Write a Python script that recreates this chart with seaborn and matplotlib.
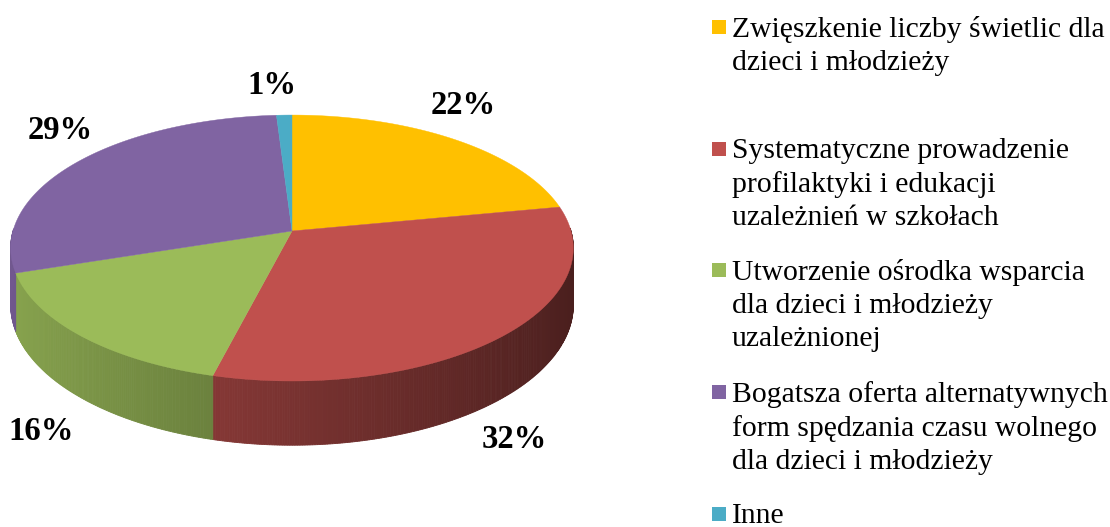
import numpy as np
import matplotlib
matplotlib.use("Agg")
import matplotlib.pyplot as plt
from matplotlib.patches import Polygon, Rectangle
import seaborn as sns


# dane z wykresu
kategorie = [
    "Zwięszkenie liczby świetlic dla\ndzieci i młodzieży",
    "Systematyczne prowadzenie\nprofilaktyki i edukacji\nuzależnień w szkołach",
    "Utworzenie ośrodka wsparcia\ndla dzieci i młodzieży\nuzależnionej",
    "Bogatsza oferta alternatywnych\nform spędzania czasu wolnego\ndla dzieci i młodzieży",
    "Inne",
]
procenty = [22, 32, 16, 29, 1]
kolory = ["#FFC000", "#C0504D", "#9BBB59", "#8064A2", "#4BACC6"]


sns.set_theme(style="white")
plt.rcParams['font.family'] = ['Liberation Serif', 'DejaVu Serif']
paleta = sns.color_palette(kolory)

# geometria "3D" tortu (piksele)
cx, cy = 292, 231
rx, ry = 279, 130.8
k = 0.128          # perspektywa
glebokosc = 56

# przesunięcia etykiet względem krawędzi (px)
label_nudge = [(9, -34), (12, 42), (-40, 34), (-17, -32), (-12, -30)]


def proj(t, z=0.0, r=1.0):
    s = 1.0 / (1.0 + k * np.sin(t))
    x = cx + rx * r * np.cos(t) * s
    y = cy - ry * r * np.sin(t) * s + z * s
    return x, y


def przyciemnij(c, f):
    return tuple(min(1.0, ch * f) for ch in c)


fig = plt.figure(figsize=(11.1, 5.27), dpi=100)
ax = fig.add_axes([0, 0, 1, 1])
ax.set_xlim(0, 1110)
ax.set_ylim(527, 0)
ax.axis('off')

total = float(sum(procenty))
cum = np.concatenate([[0], np.cumsum(procenty)]) / total
starts = np.deg2rad(90 - 360 * cum[:-1])
ends = np.deg2rad(90 - 360 * cum[1:])

# boki (tylko przednia połowa)
for i in range(len(procenty)):
    ts = np.linspace(starts[i], ends[i], max(2, int(procenty[i] * 8)))
    for t0, t1 in zip(ts[:-1], ts[1:]):
        tm = 0.5 * (t0 + t1)
        if np.sin(tm) >= 0.02:
            continue
        f = 0.63 - 0.25 * np.cos(tm)
        col = przyciemnij(paleta[i], f)
        pts = [proj(t0), proj(t1), proj(t1, glebokosc), proj(t0, glebokosc)]
        ax.add_patch(Polygon(pts, closed=True, facecolor=col, edgecolor=col, lw=0.6))

# góra
for i in range(len(procenty)):
    ts = np.linspace(starts[i], ends[i], 200)
    pts = [(cx, cy)] + [proj(t) for t in ts]
    ax.add_patch(Polygon(pts, closed=True, facecolor=paleta[i], edgecolor=paleta[i], lw=0.3))

# etykiety procentowe
for i, p in enumerate(procenty):
    tm = 0.5 * (starts[i] + ends[i])
    z = glebokosc if np.sin(tm) < 0 else 0
    x, y = proj(tm, z)
    dx, dy = label_nudge[i]
    ax.text(x + dx, y + dy, f"{p}%", ha='center', va='center',
            fontsize=23.5, fontweight='bold', color='black')

# legenda
leg_x, leg_y0, leg_step = 712, 27, 121.7
for i, lab in enumerate(kategorie):
    y = leg_y0 + i * leg_step
    ax.add_patch(Rectangle((leg_x, y - 7), 14, 14, facecolor=paleta[i], edgecolor='none'))
    ax.text(leg_x + 20, y - 11, lab, ha='left', va='top', fontsize=21.3,
            linespacing=1.34, color='black')

fig.savefig('out.png', dpi=100)
